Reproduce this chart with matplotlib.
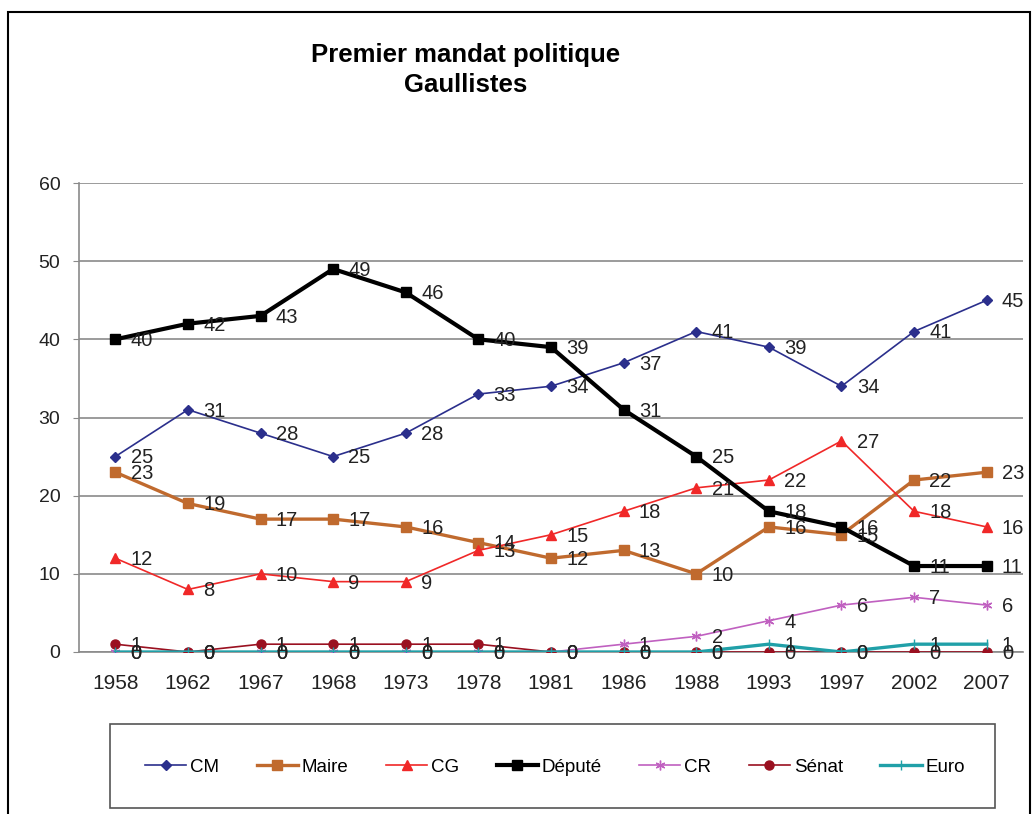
import matplotlib.pyplot as plt
from matplotlib.patches import Rectangle

plt.rcParams['font.family'] = ['Liberation Sans', 'DejaVu Sans']

# data
years = ['1958', '1962', '1967', '1968', '1973', '1978', '1981',
         '1986', '1988', '1993', '1997', '2002', '2007']
cm = [25, 31, 28, 25, 28, 33, 34, 37, 41, 39, 34, 41, 45]
maire = [23, 19, 17, 17, 16, 14, 12, 13, 10, 16, 15, 22, 23]
cg = [12, 8, 10, 9, 9, 13, 15, 18, 21, 22, 27, 18, 16]
depute = [40, 42, 43, 49, 46, 40, 39, 31, 25, 18, 16, 11, 11]
cr = [0, 0, 0, 0, 0, 0, 0, 1, 2, 4, 6, 7, 6]
senat = [1, 0, 1, 1, 1, 1, 0, 0, 0, 0, 0, 0, 0]
euro = [0, 0, 0, 0, 0, 0, 0, 0, 0, 1, 0, 1, 1]

series = [
    ('CM', cm, '#2B2F8C', 'D', 1.2, 5),
    ('Maire', maire, '#C06A2E', 's', 2.4, 6.5),
    ('CG', cg, '#F02828', '^', 1.2, 6.5),
    ('Député', depute, '#000000', 's', 3.0, 7),
    ('CR', cr, '#C060C0', (6, 2, 0), 1.2, 7),
    ('Sénat', senat, '#9A1020', 'o', 1.2, 6.5),
    ('Euro', euro, '#20A0A8', '|', 2.4, 7),
]

fig = plt.figure(figsize=(10.36, 8.14), dpi=100)
ax = fig.add_axes([79 / 1036, 1 - 652 / 814, (1023 - 79) / 1036, (652 - 183) / 814])

x = list(range(len(years)))
for name, vals, color, marker, lw, ms in series:
    ax.plot(x, vals, color=color, marker=marker, lw=lw, ms=ms,
            markeredgecolor=color, label=name, zorder=3)
    for xi, v in zip(x, vals):
        ax.annotate(str(v), (xi, v), xytext=(11, -1), textcoords='offset points',
                    ha='left', va='center', fontsize=14.5, color='#222222', zorder=4)

ax.set_xlim(-0.5, len(years) - 0.5)
ax.set_ylim(0, 60)
ax.set_yticks(range(0, 61, 10))
ax.set_xticks(x)
ax.set_xticklabels(years)
ax.tick_params(axis='x', labelsize=15, colors='#222222', length=0, pad=16)
ax.tick_params(axis='y', labelsize=14, colors='#222222', direction='out',
               length=4.5, pad=9, color='#8A8A8A')
ax.grid(axis='y', color='#8A8A8A', lw=1.2)
ax.set_axisbelow(True)
for side in ['top', 'right']:
    ax.spines[side].set_visible(False)
for side in ['left', 'bottom']:
    ax.spines[side].set_color('#8A8A8A')
    ax.spines[side].set_linewidth(1.2)

fig.text(466 / 1036, 1 - 70 / 814, 'Premier mandat politique\nGaullistes',
         ha='center', va='center', fontsize=18.5, fontweight='bold', linespacing=1.35)

leg = fig.legend(loc='center', bbox_to_anchor=(555 / 1036, 1 - 767 / 814),
                 ncol=7, fontsize=13.5, frameon=False, handlelength=2.2,
                 columnspacing=2.0, handletextpad=0.2)

# legend box and outer frame
fig.patches.append(Rectangle((110 / 1036, 1 - 808 / 814), 885 / 1036, 84 / 814,
                             transform=fig.transFigure, fill=False,
                             edgecolor='#555555', lw=1.2))
fig.patches.append(Rectangle((8 / 1036, -0.01), 1022 / 1036, 1 - 12 / 814 + 0.01,
                             transform=fig.transFigure, fill=False,
                             edgecolor='#000000', lw=1.5))

fig.savefig('out.png', dpi=100)
